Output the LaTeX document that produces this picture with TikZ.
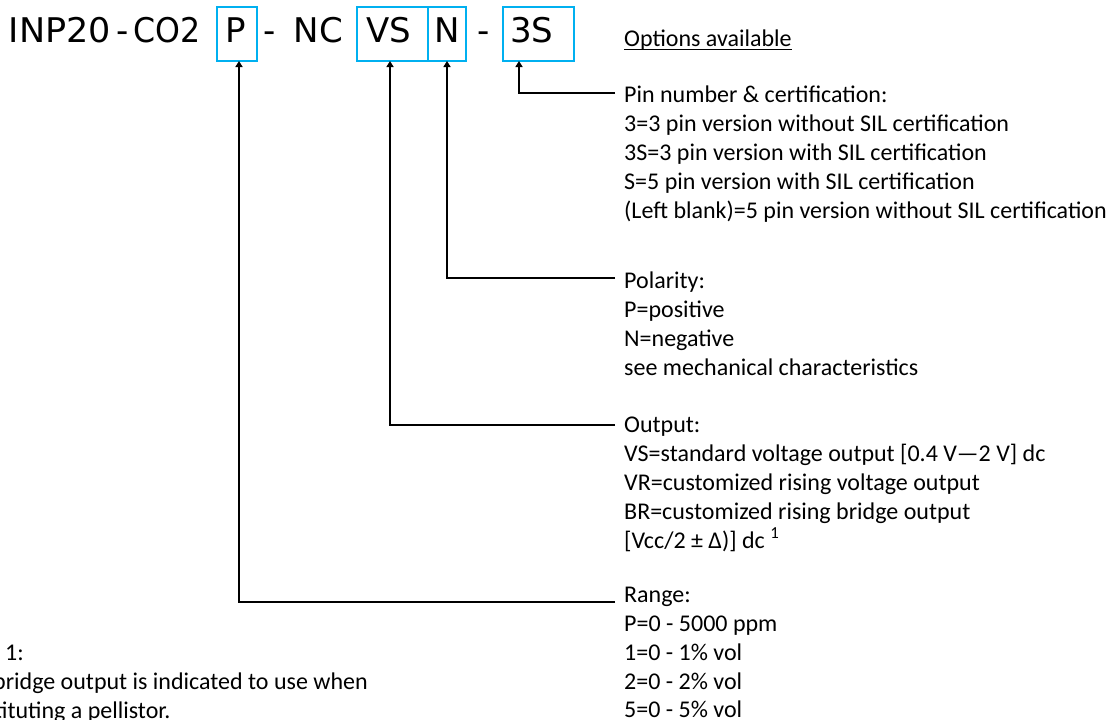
\documentclass[tikz,border=0pt]{standalone}
\usepackage{fontspec}
\setmainfont{Carlito}
\newfontfamily\codefont{DejaVu Sans}
\usetikzlibrary{arrows.meta}
\definecolor{boxblue}{HTML}{00B0F0}
\begin{document}
\begin{tikzpicture}[x=1pt,y=-1pt,
  code/.style={font=\codefont\fontsize{34}{40}\selectfont, inner sep=0pt, text height=25pt, text depth=8pt},
  ctext/.style={code, anchor=base},
  obox/.style={code, draw=boxblue, line width=2.7pt, outer sep=0pt, anchor=west, align=left, minimum height=54pt},
  lbl/.style={font=\fontsize{24}{29}\selectfont, inner sep=0pt, anchor=base west},
  conn/.style={line width=1.8pt, -{Triangle[length=6pt,width=7pt]}}]
\useasboundingbox (0,0) rectangle (1111,720);

% part number code
\node[ctext] (inp) at (60,42) {\scalebox{1.03}[1]{INP20}};
\node[ctext] (d1) at (122.5,42) {-};
\node[ctext] (co) at (167,42) {\scalebox{0.93}[1]{CO2}};
\node[obox, inner xsep=8pt, text width=24pt] (bP) at (217,34) {P};
\node[ctext] (d2) at (269.5,42) {-};
\node[ctext] (nc) at (318.5,42) {NC};
\node[obox, inner xsep=9pt, text width=53pt] (bV) at (357,34) {VS};
\node[obox, inner xsep=6.25pt, text width=25.5pt] (bN) at (428,34) {N};
\node[ctext] (d3) at (483.5,42) {-};
\node[obox, inner xsep=7pt, text width=57pt] (b3S) at (503,34) {3S};

% heading
\node[lbl] (opt) at (624,46) {Options available};
\draw[line width=1.4pt] ([yshift=-3.5pt]opt.base west) -- ([yshift=-3.5pt]opt.base east);

% pin number block
\node[lbl] (pinT) at (624,102) {Pin number \& certification:};
\node[lbl] (pin1) at (624,131) {3=3 pin version without SIL certification};
\node[lbl] (pin2) at (624,160) {3S=3 pin version with SIL certification};
\node[lbl] (pin3) at (624,189) {S=5 pin version with SIL certification};
\node[lbl] (pin4) at (624,218) {(Left blank)=5 pin version without SIL certification};

% polarity block
\node[lbl] (polT) at (624,288) {Polarity:};
\node[lbl] (pol1) at (624,317) {P=positive};
\node[lbl] (pol2) at (624,346) {N=negative};
\node[lbl] (pol3) at (624,375) {see mechanical characteristics};

% output block
\node[lbl] (outT) at (624,432) {Output:};
\node[lbl] (out1) at (624,461) {VS=standard voltage output [0.4 V—2 V] dc};
\node[lbl] (out2) at (624,490) {VR=customized rising voltage output};
\node[lbl] (out3) at (624,519) {BR=customized rising bridge output};
\node[lbl] (out4) at (624,548) {[Vcc/2 ± Δ)] dc \textsuperscript{1}};

% range block
\node[lbl] (rngT) at (624,602) {Range:};
\node[lbl] (rng1) at (624,631) {P=0 - 5000 ppm};
\node[lbl] (rng2) at (624,660) {1=0 - 1\% vol};
\node[lbl] (rng3) at (624,689) {2=0 - 2\% vol};
\node[lbl] (rng4) at (624,717) {5=0 - 5\% vol};

% connectors
\coordinate (e3) at (615,93);
\coordinate (eN) at (615,278);
\coordinate (eV) at (615,425);
\coordinate (eP) at (615,602);
\draw[conn] (e3) -| ([xshift=-19.5pt]b3S.south);
\draw[conn] (eN) -| (bN.south);
\draw[conn] (eV) -| ([xshift=-2.5pt]bV.south);
\draw[conn] (eP) -| ([xshift=2pt]bP.south);

% footnote (cut at the left edge)
\begin{scope}
\clip (0,600) rectangle (1111,720);
\node[lbl] (fn1) at (5,660) {1:};
\node[lbl] (fn2) at (-7,689) {bridge output is indicated to use when};
\node[lbl] (fn3) at (-6,718) {tituting a pellistor.};
\end{scope}
\end{tikzpicture}
\end{document}
